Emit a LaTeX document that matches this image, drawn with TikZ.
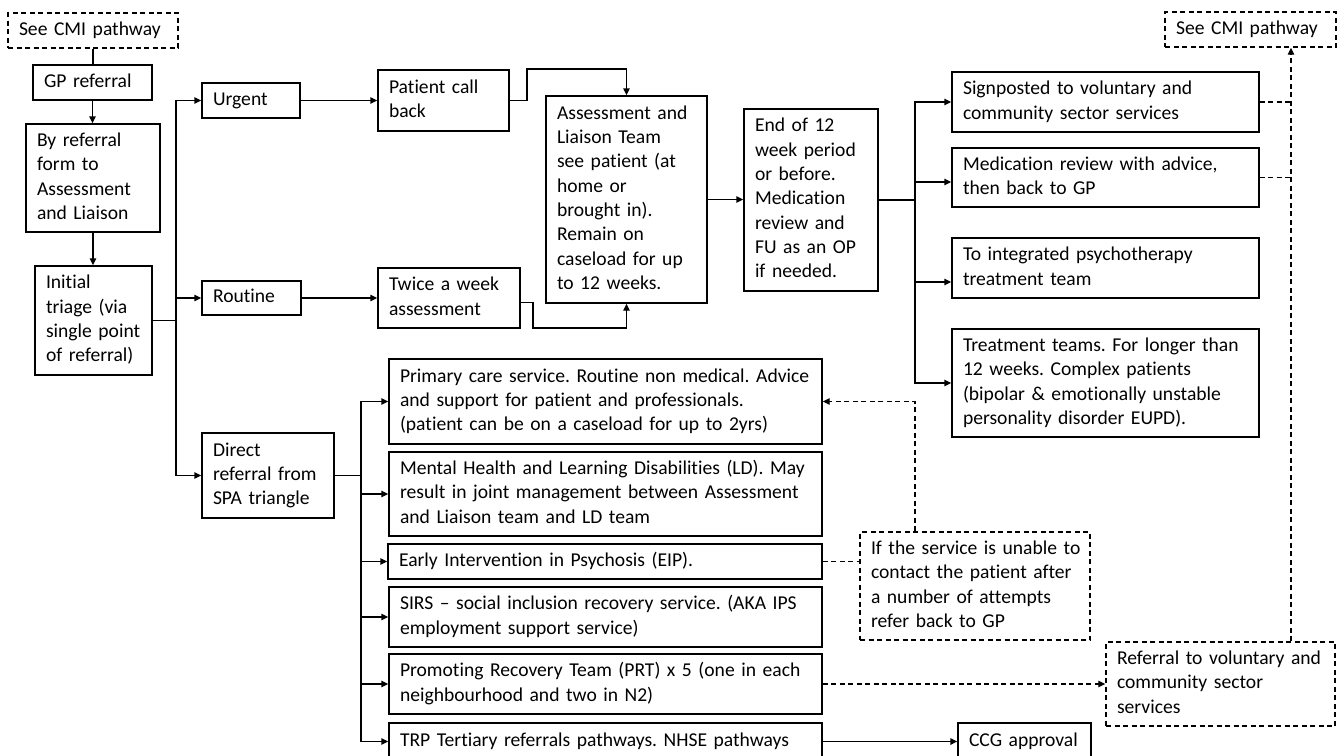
\documentclass[tikz,border=0pt]{standalone}
\usepackage{fontspec}
\setmainfont{Carlito}[Ligatures=NoCommon]
\usetikzlibrary{arrows.meta}
\newcommand\tb[1]{\begin{tabular}{@{}l@{}}#1\end{tabular}}
\frenchspacing
\begin{document}
\begin{tikzpicture}[x=1pt,y=-1pt,
  box/.style={draw, rectangle, line width=1.4pt, inner xsep=11pt, inner ysep=0pt, align=left, font=\fontsize{19.6pt}{24.3pt}\selectfont\frenchspacing},
  dbox/.style={box, dash pattern=on 5pt off 3.5pt},
  ln/.style={line width=1.4pt},
  arr/.style={line width=1.4pt, -{Triangle[length=7pt,width=6.5pt]}},
  dsh/.style={line width=1.3pt, dash pattern=on 5pt off 3.5pt},
  dsharr/.style={dsh, -{Triangle[length=7pt,width=6.5pt]}}]
\fill[white] (0,0) rectangle (1343,755);
\useasboundingbox (0,0) rectangle (1343,755);

% left column
\node[dbox, text width=148pt, minimum height=35pt] (cmi1) at (93,30.5) {\tb{See CMI pathway}};
\node[box, text width=97pt, minimum height=35pt] (gp) at (92.5,82.5) {\tb{GP referral}};
\node[box, text width=112pt, minimum height=108pt] (byref) at (93,178) {\tb{By referral\\form to\\Assessment\\and Liaison}};
\node[box, text width=95pt, minimum height=109pt] (triage) at (93.5,320.5) {\tb{Initial\\triage (via\\single point\\of referral)}};

% second column
\node[box, text width=76pt, minimum height=35pt] (urgent) at (251,100.5) {\tb{Urgent}};
\node[box, text width=77pt, minimum height=34pt] (routine) at (251.5,298) {\tb{Routine}};
\node[box, text width=110pt, minimum height=85pt] (direct) at (268,475.5) {\tb{Direct\\referral from\\SPA triangle}};

% third column
\node[box, text width=109pt, minimum height=61pt] (pcb) at (443.5,100.5) {\tb{Patient call\\back}};
\node[box, text width=120pt, minimum height=60pt] (twice) at (449,298) {\tb{Twice a week\\assessment}};
\node[box, text width=139pt, minimum height=207pt] (al) at (626.5,199.5) {\tb{Assessment and\\Liaison Team\\see patient (at\\home or\\brought in).\\Remain on\\caseload for up\\to 12 weeks.}};
\node[box, text width=112pt, minimum height=182pt] (end) at (811,200) {\tb{End of 12\\week period\\or before.\\Medication\\review and\\FU as an OP\\if needed.}};

% right column
\node[box, text width=285pt, minimum height=60pt] (sign) at (1105.5,102) {\tb{Signposted to voluntary and\\community sector services}};
\node[box, text width=285pt, minimum height=59pt] (med) at (1105.5,177.5) {\tb{Medication review with advice,\\then back to GP}};
\node[box, text width=285pt, minimum height=60pt] (integ) at (1105.5,268) {\tb{To integrated psychotherapy\\treatment team}};
\node[box, text width=285pt, minimum height=108pt] (treat) at (1105.5,383) {\tb{Treatment teams. For longer than\\12 weeks. Complex patients\\(bipolar \& emotionally unstable\\personality disorder EUPD).}};
\node[dbox, text width=149pt, minimum height=35pt] (cmi2) at (1250.5,29.5) {\tb{See CMI pathway}};

% direct referral targets
\node[box, text width=411pt, minimum height=85pt] (primary) at (605.5,401.5) {\tb{Primary care service. Routine non medical. Advice\\and support for patient and professionals.\\(patient can be on a caseload for up to 2yrs)}};
\node[box, text width=411pt, minimum height=84pt] (mhld) at (605.5,494) {\tb{Mental Health and Learning Disabilities (LD). May\\result in joint management between Assessment\\and Liaison team and LD team}};
\node[box, text width=412pt, minimum height=35pt] (eip) at (605,561.5) {\tb{Early Intervention in Psychosis (EIP).}};
\node[box, text width=411pt, minimum height=60pt] (sirs) at (605.5,617) {\tb{SIRS – social inclusion recovery service. (AKA IPS\\employment support service)}};
\node[box, text width=411pt, minimum height=60pt] (prt) at (605.5,684) {\tb{Promoting Recovery Team (PRT) x 5 (one in each\\neighbourhood and two in N2)}};
\node[box, text width=411pt, minimum height=37pt] (trp) at (605.5,741.5) {\tb{TRP Tertiary referrals pathways. NHSE pathways}};
\node[box, text width=111pt, minimum height=37pt] (ccg) at (1024.5,741.5) {\tb{CCG approval}};
\node[dbox, text width=208pt, minimum height=108pt] (ifbox) at (975,586) {\tb{If the service is unable to\\contact the patient after\\a number of attempts\\refer back to GP}};
\node[dbox, text width=207pt, minimum height=84pt] (ref) at (1220.5,684) {\tb{Referral to voluntary and\\community sector\\services}};

% connectors: left column
\draw[ln] (cmi1.south) -- (cmi1.south |- gp.north);
\draw[arr] (gp.south) -- (gp.south |- byref.north);
\draw[arr] (byref.south) -- (byref.south |- triage.north);

\draw[ln] (triage.east) -- (176,320.5) coordinate (t1);
\draw[arr] (t1) |- (urgent.west);
\draw[arr] (t1) |- (routine.west);
\draw[arr] (t1) |- (direct.west);

\draw[arr] (urgent.east) -- (pcb.west);
\draw[arr] (routine.east) -- (twice.west);
\draw[arr] (pcb.east) -- (527,100.5) -- (527,69) -- (626.5,69) -- (al.north);
\draw[arr] ([yshift=-4.5pt]twice.east) -- (533,302.5) -- (533,328) -- (626.5,328) -- (al.south);
\draw[arr] (al.east) -- (al.east -| end.west);

\draw[ln] (end.east) -- (915,200) coordinate (t2);
\draw[arr] (t2) |- (sign.west);
\draw[arr] (t2) |- ([yshift=-4.5pt]med.west);
\draw[arr] (t2) |- ([yshift=-14pt]integ.west);
\draw[arr] (t2) |- (treat.west);

\draw[ln] (direct.east) -- (361,475.5) coordinate (t3);
\draw[arr] (t3) |- (primary.west);
\draw[arr] (t3) |- (mhld.west);
\draw[arr] (t3) |- (eip.west);
\draw[arr] (t3) |- (sirs.west);
\draw[arr] (t3) |- (prt.west);
\draw[arr] (t3) |- (trp.west);
\draw[arr] (trp.east) -- (trp.east -| ccg.west);

% dashed connectors
\coordinate (v1) at (1291,0);
\coordinate (v2) at (915,0);
\draw[dsh] (sign.east) -- (sign.east -| v1);
\draw[dsh] (med.east) -- (med.east -| v1);
\draw[dsharr] (ref.north -| v1) -- (cmi2.south -| v1);
\draw[dsharr] (ifbox.north -| v2) |- (primary.east);
\draw[dsh] (eip.east) -- (eip.east -| ifbox.west);
\draw[dsharr] (prt.east) -- (prt.east -| ref.west);
\end{tikzpicture}
\end{document}
